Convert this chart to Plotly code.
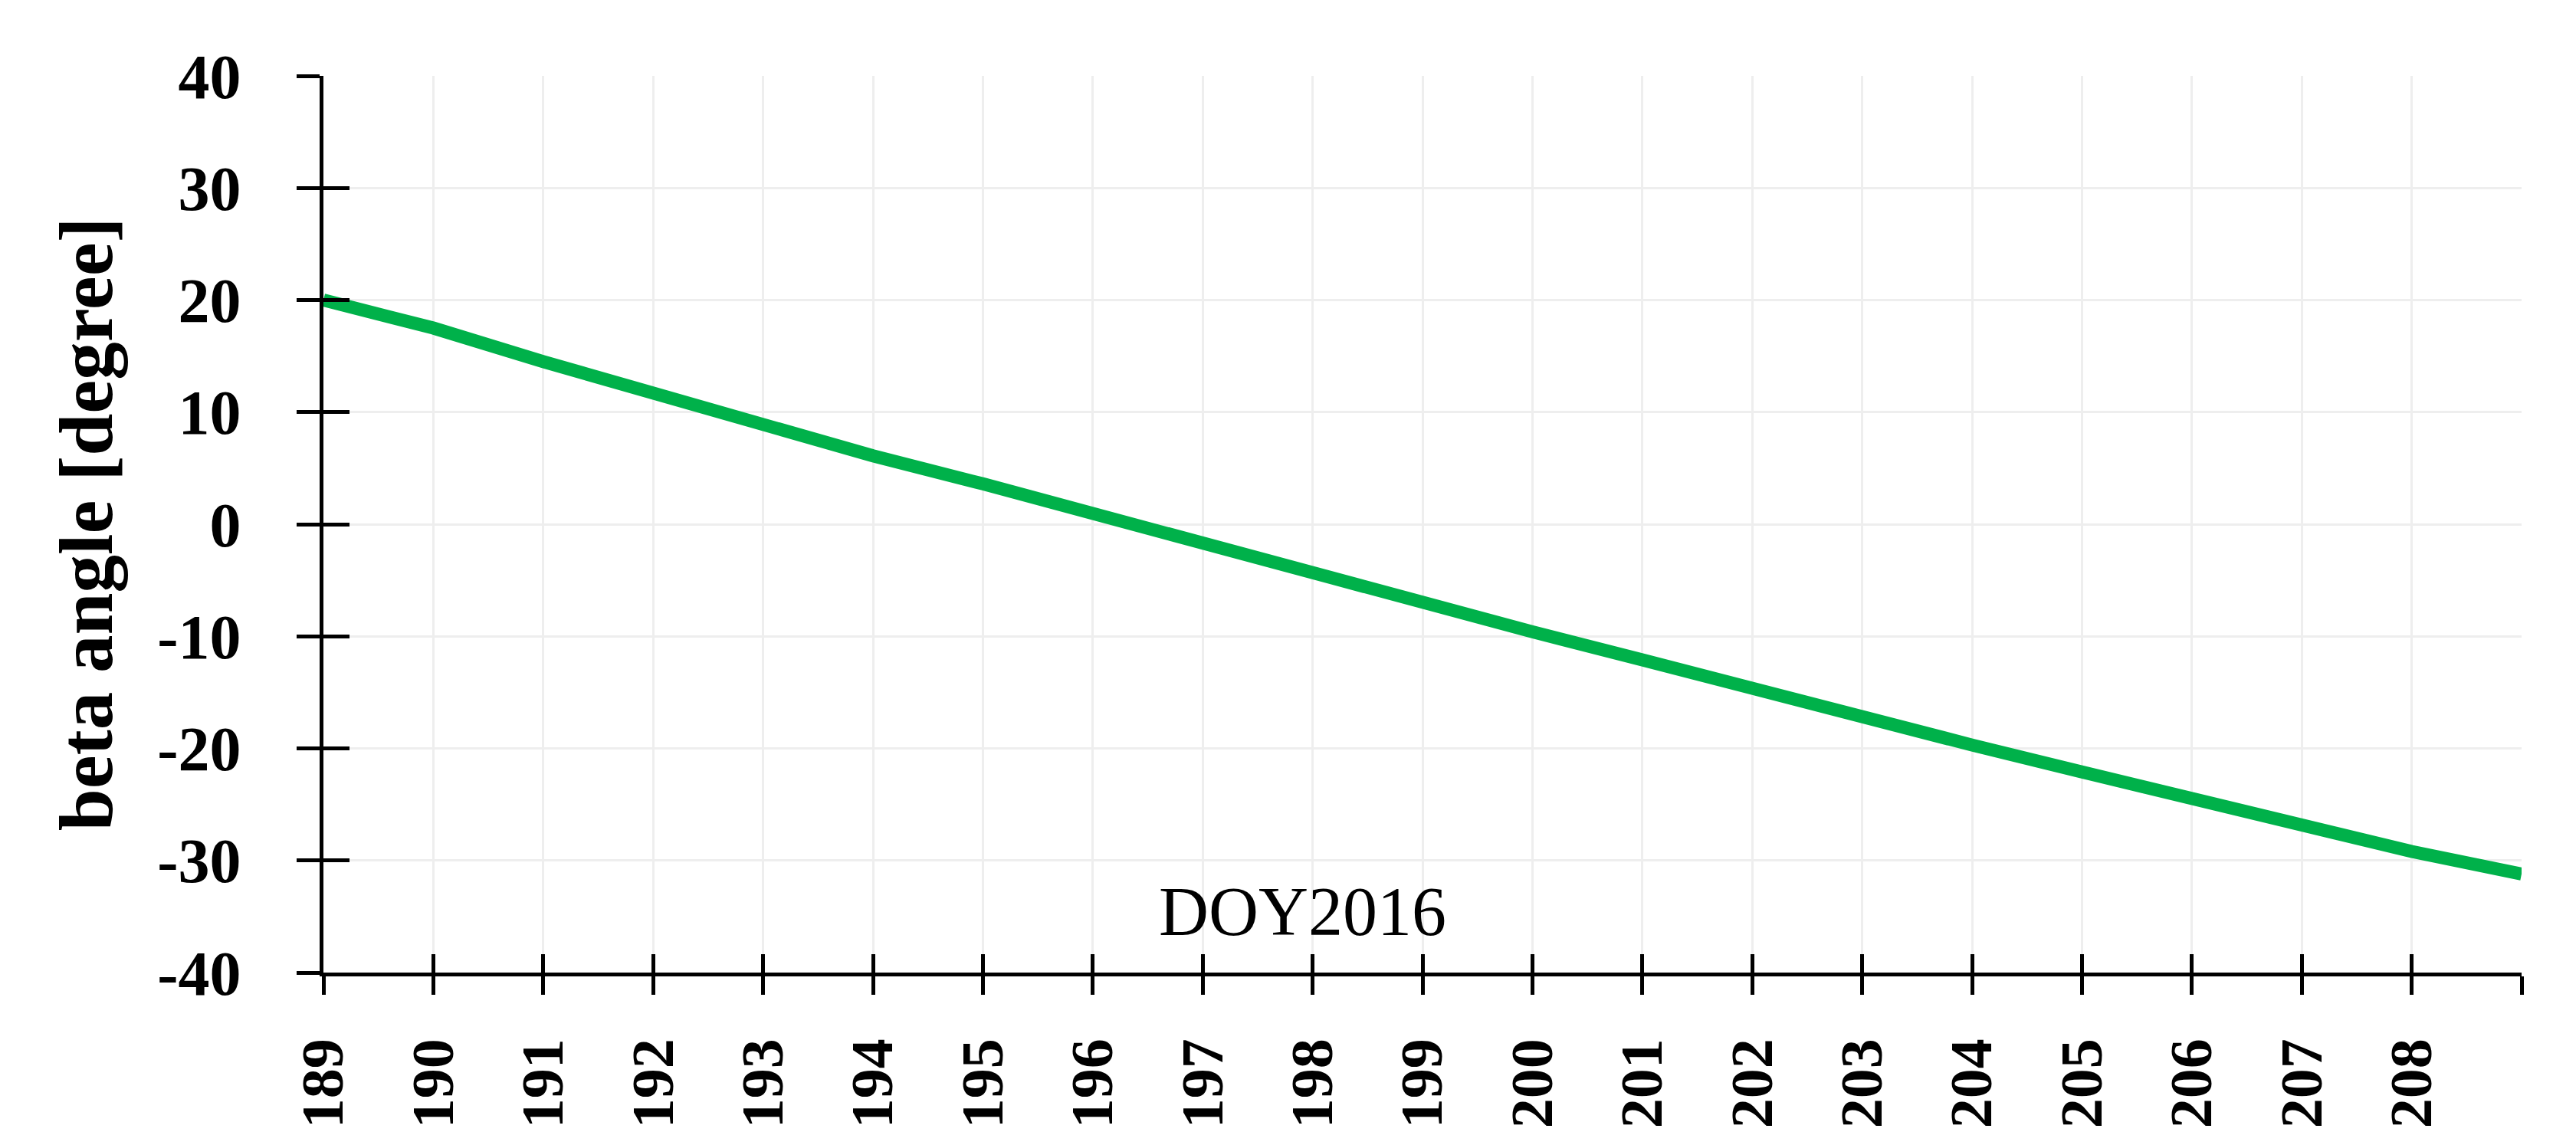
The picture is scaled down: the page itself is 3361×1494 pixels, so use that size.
import plotly.graph_objects as go

# Day of year 2016
doy = [189, 190, 191, 192, 193, 194, 195, 196, 197, 198, 199,
       200, 201, 202, 203, 204, 205, 206, 207, 208, 209]
# beta angle [degree]
beta = [20.0, 17.5, 14.5, 11.6, 8.8, 6.1, 3.6, 0.9, -1.8, -4.4, -7.1,
        -9.6, -12.1, -14.7, -17.2, -19.7, -22.1, -24.5, -26.9, -29.2, -31.2]

x_tickvals = list(range(189, 210))
x_ticktext = [str(v) for v in range(189, 209)] + [""]
y_tickvals = [40, 30, 20, 10, 0, -10, -20, -30, -40]
y_ticktext = [str(v) for v in y_tickvals]

x_range = [189, 209]
y_range = [-40, 40]

fig = go.Figure()
fig.add_trace(go.Scatter(
    x=doy, y=beta, mode="lines",
    line=dict(color="#00B14A", width=17),
    showlegend=False, hoverinfo="skip", cliponaxis=False,
))
# helper trace to hold the overlay axes (inside half of the crossing ticks)
fig.add_trace(go.Scatter(
    x=[None], y=[None], xaxis="x2", yaxis="y2", mode="lines",
    showlegend=False, hoverinfo="skip",
))

serif = "Liberation Serif"

fig.update_layout(
    width=3353, height=1486,
    paper_bgcolor="white", plot_bgcolor="white",
    margin=dict(l=414, r=71, t=91, b=225),
    xaxis=dict(
        range=x_range, tickmode="array", tickvals=x_tickvals, ticktext=x_ticktext,
        tickangle=-90, ticks="outside", ticklen=24, tickwidth=5, tickcolor="black",
        ticklabelstandoff=26,
        showline=True, linecolor="black", linewidth=5, automargin=False,
        showgrid=True, gridcolor="#eeeeee", gridwidth=3, zeroline=False,
        tickfont=dict(family=serif, size=78, color="black", weight="bold"),
    ),
    yaxis=dict(
        range=y_range, tickmode="array", tickvals=y_tickvals, ticktext=y_ticktext,
        ticks="outside", ticklen=30, tickwidth=5, tickcolor="black",
        ticklabelstandoff=56,
        showline=True, linecolor="black", linewidth=5, automargin=False,
        showgrid=True, gridcolor="#eeeeee", gridwidth=3, zeroline=False,
        tickfont=dict(family=serif, size=82, color="black", weight="bold"),
    ),
    xaxis2=dict(
        range=x_range, overlaying="x", anchor="y", side="bottom",
        tickmode="array", tickvals=x_tickvals, ticks="inside", ticklen=24,
        tickwidth=5, tickcolor="black", showticklabels=False, automargin=False,
        showgrid=False, showline=False, zeroline=False,
    ),
    yaxis2=dict(
        range=y_range, overlaying="y", anchor="x", side="left",
        tickmode="array", tickvals=y_tickvals, ticks="inside", ticklen=34,
        tickwidth=5, tickcolor="black", showticklabels=False, automargin=False,
        showgrid=False, showline=False, zeroline=False,
    ),
    annotations=[
        dict(text="beta angle [degree]", textangle=-90, showarrow=False,
             xref="paper", yref="paper", x=-0.108, y=0.5,
             xanchor="center", yanchor="middle",
             font=dict(family=serif, size=99, color="black", weight="bold")),
        dict(text="DOY2016", showarrow=False,
             xref="paper", yref="paper", x=0.4456, y=0.068,
             xanchor="center", yanchor="middle",
             font=dict(family=serif, size=90, color="black")),
    ],
)

fig.write_html("out.html")
